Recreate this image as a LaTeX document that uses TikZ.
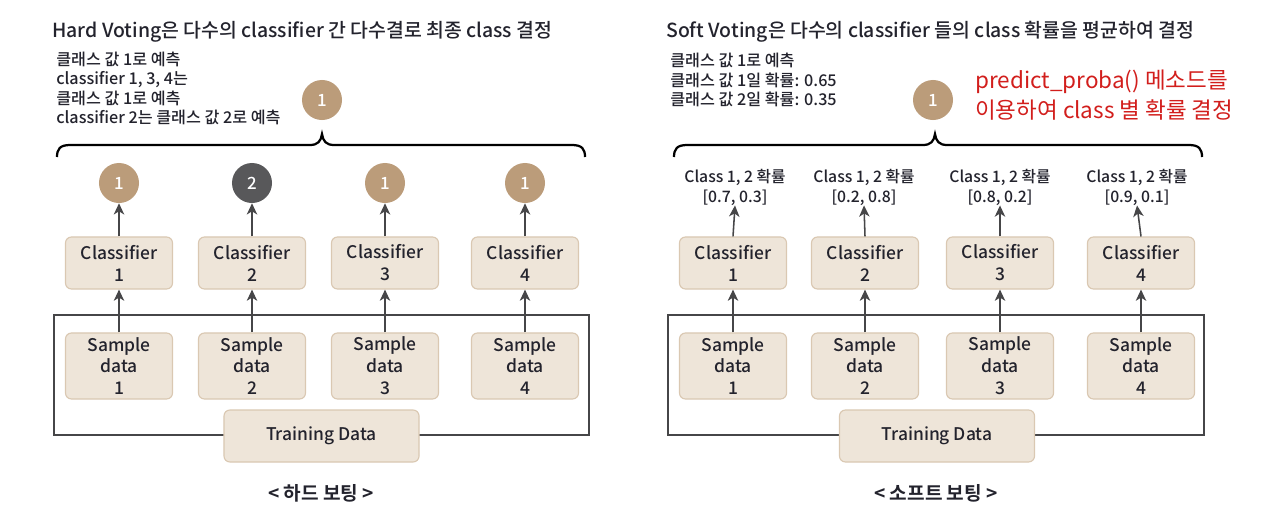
\documentclass[tikz,border=0pt]{standalone}
\usepackage{fontspec}
\setmainfont{Noto Sans CJK KR Medium}[BoldFont={Noto Sans CJK KR Bold}]
\newfontfamily\redfont{Noto Sans CJK KR}
\usetikzlibrary{arrows.meta}
\definecolor{boxfill}{RGB}{238,229,217}
\definecolor{boxline}{RGB}{218,200,178}
\definecolor{tanc}{RGB}{187,156,122}
\definecolor{darkc}{RGB}{88,88,90}
\definecolor{linec}{RGB}{70,70,72}
\definecolor{txt}{RGB}{35,35,45}
\definecolor{redt}{RGB}{210,30,28}
\begin{document}
\begin{tikzpicture}[x=0.025cm,y=-0.025cm,
  box/.style={draw=boxline, line width=0.8pt, fill=boxfill, rounded corners=0.15cm, minimum width=2.675cm, align=center, inner sep=0pt, text=txt, font=\fontsize{12.4}{15.6}\selectfont},
  clsbox/.style={box, minimum height=1.3cm},
  smpbox/.style={box, minimum height=1.65cm},
  trainbox/.style={box, minimum width=4.875cm, minimum height=1.3cm},
  vote/.style={circle, fill=tanc, minimum size=1cm, inner sep=0pt, text=white, font=\fontsize{12}{14}\selectfont},
  arr/.style={draw=linec, line width=1.1pt, -{Stealth[length=0.28cm,width=0.26cm,inset=0.08cm]}},
  frame/.style={draw=linec, line width=1.3pt},
  bracest/.style={draw=black, line width=1.6pt},
  title/.style={anchor=west, inner sep=0pt, text=txt, font=\fontsize{13.8}{15}\selectfont},
  note/.style={anchor=west, inner sep=0pt, align=left, text=txt, font=\fontsize{11.5}{13.8}\selectfont},
  prob/.style={inner sep=0pt, align=center, text=txt, font=\fontsize{11.2}{14.2}\selectfont},
  caption/.style={inner sep=0pt, text=txt, font=\fontsize{13.6}{16}\selectfont\bfseries},
  rednote/.style={anchor=west, inner sep=0pt, align=left, text=redt, font=\redfont\fontsize{16}{21.3}\selectfont},
]
\useasboundingbox (0,0) rectangle (1280,520);
\fill[white] (0,0) rectangle (1280,520);

% ================= LEFT: Hard voting =================
\node[title] (ltitle) at (52,32) {Hard Voting은 다수의 classifier 간 다수결로 최종 class 결정};
\node[note] (lnote) at (56,88.5) {클래스 값 1로 예측\\classifier 1, 3, 4는\\클래스 값 1로 예측\\classifier 2는 클래스 값 2로 예측};
\node[vote] (ltop) at (322,100) {1};
\draw[bracest] (57,157) .. controls (57,149) and (60,145) .. (70,145) -- (310,145)
  .. controls (318,145) and (321,141) .. (322,134)
  .. controls (323,141) and (326,145) .. (334,145) -- (572,145)
  .. controls (582,145) and (585,149) .. (585,157);

\draw[frame] (54,315) rectangle (589,435);

\node[vote] (lv1) at (119,183) {1};
\node[vote, fill=darkc] (lv2) at (252,183) {2};
\node[vote] (lv3) at (385,183) {1};
\node[vote] (lv4) at (525,183) {1};

\node[clsbox] (lc1) at (119,263) {Classifier\\1};
\node[clsbox] (lc2) at (252,263) {Classifier\\2};
\node[clsbox] (lc3) at (385,263) {Classifier\\3};
\node[clsbox] (lc4) at (525,263) {Classifier\\4};

\node[smpbox] (ls1) at (119,366) {Sample\\data\\1};
\node[smpbox] (ls2) at (252,366) {Sample\\data\\2};
\node[smpbox] (ls3) at (385,366) {Sample\\data\\3};
\node[smpbox] (ls4) at (525,366) {Sample\\data\\4};

\node[trainbox] (ltrain) at (321.5,436) {Training Data};

\foreach \i in {1,2,3,4}{
  \draw[arr] (lc\i.north) -- (lv\i.south);
  \draw[arr] (ls\i.north) -- (lc\i.south);
}

\node[caption] (lcap) at (321,493) {< 하드 보팅 >};

% ================= RIGHT: Soft voting =================
\node[title] (rtitle) at (666,32) {Soft Voting은 다수의 classifier 들의 class 확률을 평균하여 결정};
\node[note] (rnote) at (670,80) {클래스 값 1로 예측\\클래스 값 1일 확률: 0.65\\클래스 값 2일 확률: 0.35};
\node[vote] (rtop) at (933,100) {1};
\node[rednote] (rred) at (975,95) {predict\_proba() 메소드를\\이용하여 class 별 확률 결정};
\draw[bracest] (674,157) .. controls (674,149) and (677,145) .. (687,145) -- (923,145)
  .. controls (931,145) and (934,141) .. (935,134)
  .. controls (936,141) and (939,145) .. (947,145) -- (1189,145)
  .. controls (1199,145) and (1202,149) .. (1202,157);

\draw[frame] (668,315) rectangle (1204,435);

\node[prob] (rp1) at (735,187) {Class 1, 2 확률\\{}[0.7, 0.3]};
\node[prob] (rp2) at (864,187) {Class 1, 2 확률\\{}[0.2, 0.8]};
\node[prob] (rp3) at (1000,187) {Class 1, 2 확률\\{}[0.8, 0.2]};
\node[prob] (rp4) at (1137,187) {Class 1, 2 확률\\{}[0.9, 0.1]};

\node[clsbox] (rc1) at (733,263) {Classifier\\1};
\node[clsbox] (rc2) at (865,263) {Classifier\\2};
\node[clsbox] (rc3) at (1000,263) {Classifier\\3};
\node[clsbox] (rc4) at (1141,263) {Classifier\\4};

\node[smpbox] (rs1) at (733,366) {Sample\\data\\1};
\node[smpbox] (rs2) at (865,366) {Sample\\data\\2};
\node[smpbox] (rs3) at (1000,366) {Sample\\data\\3};
\node[smpbox] (rs4) at (1141,366) {Sample\\data\\4};

\node[trainbox] (rtrain) at (937,436) {Training Data};

\foreach \i in {1,2,3,4}{
  \draw[arr] (rc\i.north) -- (rp\i.south);
  \draw[arr] (rs\i.north) -- (rc\i.south);
}

\node[caption] (rcap) at (936,493) {< 소프트 보팅 >};
\end{tikzpicture}
\end{document}
